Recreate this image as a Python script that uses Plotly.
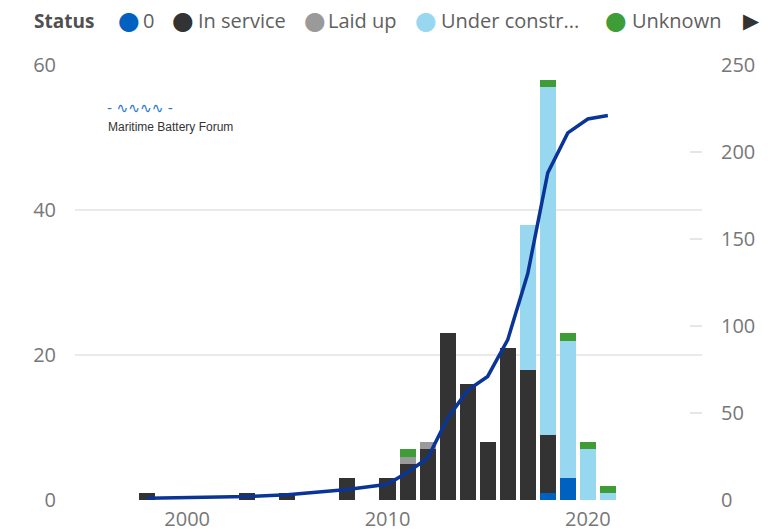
import plotly.graph_objects as go

years = [1998, 2003, 2005, 2008, 2010, 2011, 2012, 2013, 2014, 2015, 2016, 2017, 2018, 2019, 2020, 2021]
status_zero = [0, 0, 0, 0, 0, 0, 0, 0, 0, 0, 0, 0, 1, 3, 0, 0]
in_service = [1, 1, 1, 3, 3, 5, 7, 23, 16, 8, 21, 18, 8, 0, 0, 0]
laid_up = [0, 0, 0, 0, 0, 1, 1, 0, 0, 0, 0, 0, 0, 0, 0, 0]
under_construction = [0, 0, 0, 0, 0, 0, 0, 0, 0, 0, 0, 20, 48, 19, 7, 1]
unknown = [0, 0, 0, 0, 0, 1, 0, 0, 0, 0, 0, 0, 1, 1, 1, 1]
cumulative = [1, 2, 3, 6, 9, 16, 24, 47, 63, 71, 92, 130, 188, 211, 219, 221]

series_names = ["0", "In service", "Laid up", "Under constr...", "Unknown"]
series_values = [status_zero, in_service, laid_up, under_construction, unknown]
series_colors = ["#0061C1", "#333333", "#9A9A9A", "#97D8F0", "#3E9D36"]

FONT = "Open Sans"
W, H = 782, 532
ML, MR, MT, MB = 75, 80, 65, 32
PW, PH = W - ML - MR, H - MT - MB


def px(x):
    return (x - ML) / PW


def py(y):
    return (H - MB - y) / PH


fig = go.Figure()
for name, vals, col in zip(series_names, series_values, series_colors):
    fig.add_trace(go.Bar(x=years, y=vals, name=name, marker_color=col,
                         marker_line_width=0, width=0.8, showlegend=False))

fig.add_trace(go.Scatter(x=years, y=cumulative, mode="lines", yaxis="y2",
                         line=dict(color="#0A3597", width=3.5), showlegend=False))

fig.update_layout(
    width=W, height=H,
    margin=dict(l=ML, r=MR, t=MT, b=MB),
    paper_bgcolor="white", plot_bgcolor="white",
    barmode="stack", bargap=0, showlegend=False,
    font=dict(family=FONT, size=20, color="#777777"),
    xaxis=dict(range=[1994.4, 2025.7], tickvals=[2000, 2010, 2020], showgrid=False,
               zeroline=False, showline=False, ticklabelstandoff=5, automargin=False),
    yaxis=dict(range=[0, 60], dtick=20, gridcolor="#EAEAEA", gridwidth=2, zeroline=False,
               ticklabelstandoff=18, automargin=False),
    yaxis2=dict(range=[0, 250], dtick=50, overlaying="y", side="right", showgrid=False,
                zeroline=False, ticks="inside", ticklen=12, tickwidth=2, tickcolor="#E6E6E6",
                ticklabelstandoff=18, automargin=False),
)

# custom legend (Power BI style)
LEG_Y = py(21)
fig.add_annotation(text="<b>Status</b>", xref="paper", yref="paper", x=px(32), y=LEG_Y,
                   xanchor="left", yanchor="middle", showarrow=False,
                   font=dict(size=19, color="#505050"))
circle_x = [129, 183, 315, 426, 616]
label_x = [141, 196, 326, 439, 630]
for name, col, cx, lx in zip(series_names, series_colors, circle_x, label_x):
    fig.add_annotation(text="●", xref="paper", yref="paper", x=px(cx), y=py(20),
                       xanchor="center", yanchor="middle", showarrow=False,
                       font=dict(size=25, color=col, family="DejaVu Sans"))
    fig.add_annotation(text=name, xref="paper", yref="paper", x=px(lx), y=LEG_Y,
                       xanchor="left", yanchor="middle", showarrow=False,
                       font=dict(size=20, color="#606060"))
fig.add_annotation(text="▶", xref="paper", yref="paper", x=px(751), y=py(21),
                   xanchor="center", yanchor="middle", showarrow=False,
                   font=dict(size=21, color="#333333", family="DejaVu Sans"))

# logo
fig.add_annotation(text="- ∿∿∿∿ -", xref="paper", yref="paper", x=px(105), xanchor="left",
                   y=py(108), yanchor="middle", showarrow=False,
                   font=dict(size=14, color="#2A78D0", family="DejaVu Sans"))
fig.add_annotation(text="Maritime Battery Forum", xref="paper", yref="paper", x=px(106),
                   xanchor="left", y=py(127), yanchor="middle", showarrow=False,
                   font=dict(size=12, color="#333333", family="Liberation Sans"))

fig.write_html("out.html")
